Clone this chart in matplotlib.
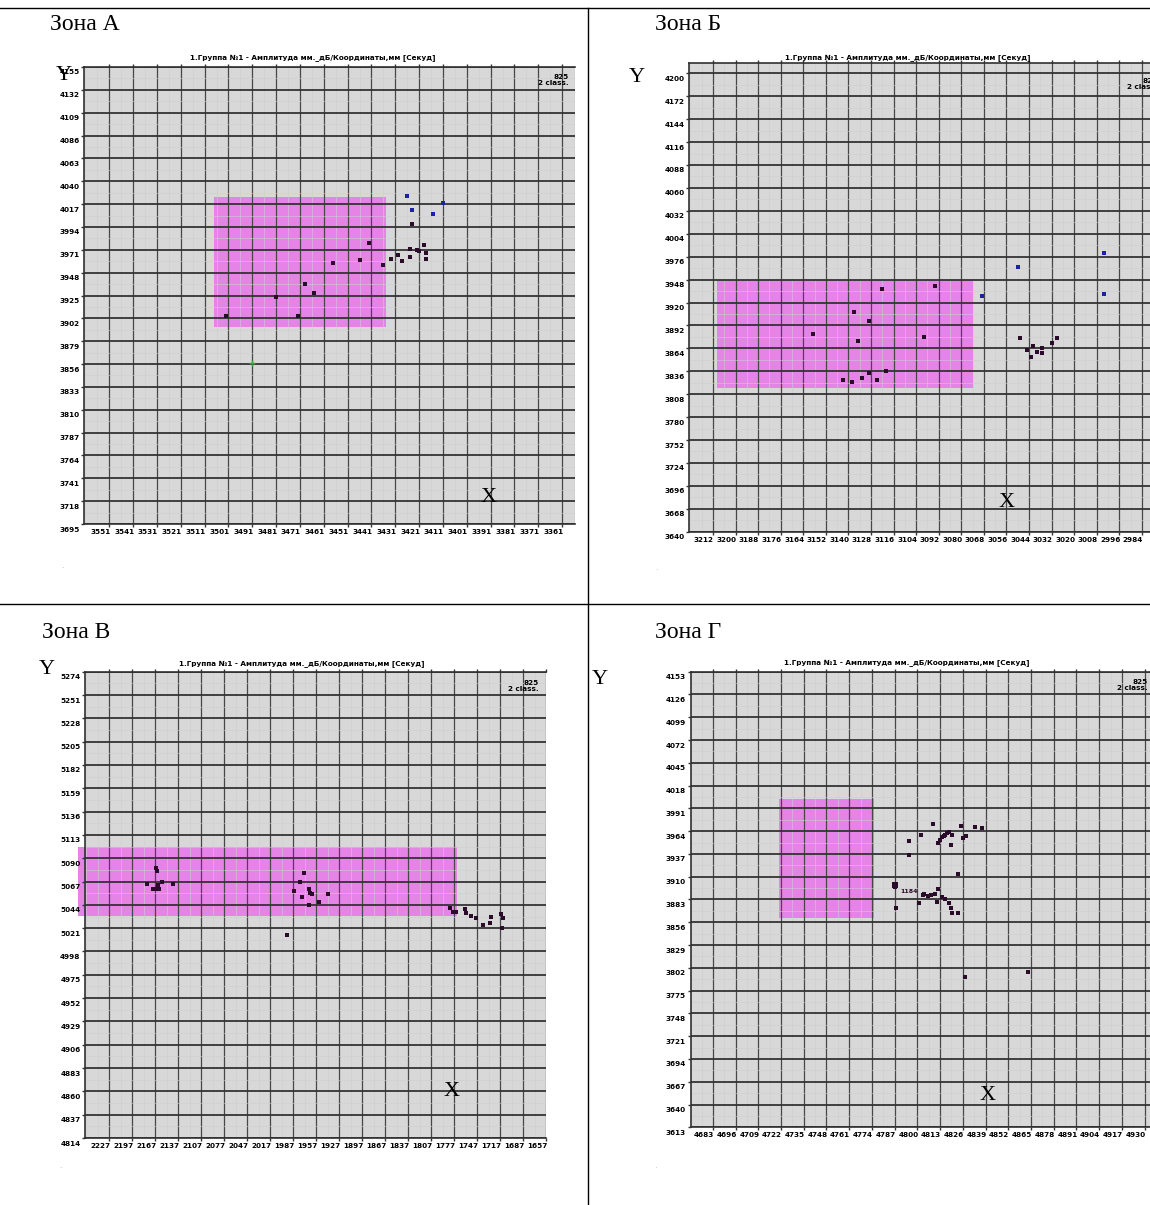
import matplotlib
matplotlib.use('Agg')
import matplotlib.pyplot as plt
from matplotlib.patches import Rectangle
from matplotlib.transforms import ScaledTranslation
from matplotlib.ticker import FixedLocator, AutoMinorLocator
from matplotlib import font_manager

W, H = 1150, 1205

names = {f.name for f in font_manager.fontManager.ttflist}
NARROW = 'Liberation Sans Narrow' if 'Liberation Sans Narrow' in names else 'DejaVu Sans'
SERIF = 'Liberation Serif'

TITLE = '1.Группа №1 - Амплитуда мм._дБ/Координаты,мм [Секуд]'

# ---- Зона А ----
a_xticks = [3551, 3541, 3531, 3521, 3511, 3501, 3491, 3481, 3471, 3461,
            3451, 3441, 3431, 3421, 3411, 3401, 3391, 3381, 3371, 3361]
a_yticks = [3695, 3718, 3741, 3764, 3787, 3810, 3833, 3856, 3879, 3902, 3925,
            3948, 3971, 3994, 4017, 4040, 4063, 4086, 4109, 4132, 4155]
a_rect = [3507, 3435, 3893, 4024]
a_dark_x = [3424, 3442, 3457, 3446, 3436, 3433, 3430, 3428, 3425, 3425,
            3422, 3421, 3419, 3418, 3418, 3469, 3465, 3481, 3502, 3472]
a_dark_y = [3997, 3978, 3958, 3961, 3956, 3962, 3966, 3960, 3972, 3964,
            3971, 3970, 3976, 3968, 3962, 3937, 3928, 3923, 3904, 3904]
a_blue_x = [3426, 3411, 3424, 3415]
a_blue_y = [4025, 4018, 4011, 4007]
a_green_x = [3491]
a_green_y = [3857]

# ---- Зона Б ----
b_xticks = [3212, 3200, 3188, 3176, 3164, 3152, 3140, 3128, 3116, 3104,
            3092, 3080, 3068, 3056, 3044, 3032, 3020, 3008, 2996, 2984]
b_yticks = [3640, 3668, 3696, 3724, 3752, 3780, 3808, 3836, 3864, 3892, 3920,
            3948, 3976, 4004, 4032, 4060, 4088, 4116, 4144, 4172, 4200]
b_rect = [3210, 3074, 3815, 3948]
b_dark_x = [3122, 3094, 3137, 3129, 3159, 3100, 3135, 3143, 3138, 3133, 3129,
            3125, 3120, 3049, 3045, 3043, 3042, 3040, 3037, 3037, 3032, 3029]
b_dark_y = [3937, 3940, 3908, 3898, 3882, 3878, 3873, 3825, 3823, 3828, 3834,
            3825, 3836, 3877, 3862, 3854, 3867, 3860, 3865, 3858, 3871, 3877]
b_blue_x = [3050, 3004, 3004, 3069]
b_blue_y = [3963, 3980, 3930, 3928]

# ---- Зона В ----
v_xticks = [2227, 2197, 2167, 2137, 2107, 2077, 2047, 2017, 1987, 1957,
            1927, 1897, 1867, 1837, 1807, 1777, 1747, 1717, 1687, 1657]
v_yticks = [4814, 4837, 4860, 4883, 4906, 4929, 4952, 4975, 4998, 5021, 5044,
            5067, 5090, 5113, 5136, 5159, 5182, 5205, 5228, 5251, 5274]
v_rect = [2268, 1773, 5033, 5101]
v_dark_x = [2166, 2165, 2178, 2170, 2165, 2162, 2158, 2144, 2163,
            1973, 1978, 1986, 1976, 1967, 1965, 1962, 1967, 1954, 1942, 1995,
            1783, 1778, 1775, 1763, 1761, 1755, 1748, 1739, 1730, 1729, 1716, 1713, 1715]
v_dark_y = [5080, 5077, 5065, 5060, 5060, 5060, 5067, 5065, 5064,
            5075, 5067, 5058, 5052, 5060, 5056, 5055, 5044, 5047, 5055, 5014,
            5041, 5037, 5037, 5040, 5036, 5033, 5031, 5024, 5026, 5032, 5035, 5031, 5021]

# ---- Зона Г ----
g_xticks = [4683, 4696, 4709, 4722, 4735, 4748, 4761, 4774, 4787, 4800,
            4813, 4826, 4839, 4852, 4865, 4878, 4891, 4904, 4917, 4930]
g_yticks = [3613, 3640, 3667, 3694, 3721, 3748, 3775, 3802, 3829, 3856, 3883,
            3910, 3937, 3964, 3991, 4018, 4045, 4072, 4099, 4126, 4153]
g_rect = [4721, 4775, 3861, 4002]
g_dark_x = [4809, 4802, 4795, 4795, 4812, 4813, 4815, 4817, 4818, 4820, 4819, 4825,
            4826, 4828, 4833, 4837, 4814, 4816, 4823, 4787, 4788, 4801, 4803,
            4804, 4806, 4808, 4810, 4811, 4812, 4814, 4816, 4818, 4819, 4820, 4823, 4827, 4863]
g_dark_y = [3973, 3960, 3952, 3936, 3950, 3954, 3958, 3962, 3963, 3959, 3948, 3970,
            3956, 3958, 3969, 3968, 3957, 3959, 3913, 3898, 3873, 3879, 3888,
            3890, 3887, 3888, 3890, 3880, 3895, 3886, 3884, 3879, 3873, 3867, 3867, 3791, 3797]
g_big_x = [4787]
g_big_y = [3900]

BG = '#d8d8d8'
MAGENTA = '#e583e6'
DARK = '#2a0c2a'
BLUE = '#1c22a8'


def fx(px):
    return px / W


def fy(py):
    return 1 - py / H


def make_axes(l, r, t, b):
    return fig.add_axes([l / W, 1 - b / H, (r - l) / W, (b - t) / H])


def style(ax, xticks, yticks, xlim, ylim, rect):
    ax.set_facecolor(BG)
    ax.set_xlim(*xlim)
    ax.set_ylim(*ylim)
    ax.xaxis.set_major_locator(FixedLocator(xticks))
    ax.yaxis.set_major_locator(FixedLocator(yticks))
    ax.set_xticklabels([str(v) for v in xticks])
    ax.set_yticklabels([str(v) for v in yticks])
    ax.xaxis.set_minor_locator(AutoMinorLocator(2))
    ax.yaxis.set_minor_locator(AutoMinorLocator(2))
    ax.grid(True, which='minor', color='#cecece', linewidth=0.4)
    ax.grid(True, which='major', axis='x', color='#474747', linewidth=0.9)
    ax.grid(True, which='major', axis='y', color='#333333', linewidth=1.3)
    ax.tick_params(which='minor', length=0)
    ax.tick_params(axis='both', which='major', direction='out', length=2.5,
                   width=1, color='#333333', pad=1, top=True)
    for lab in ax.get_xticklabels() + ax.get_yticklabels():
        lab.set_fontfamily([NARROW, 'DejaVu Sans'])
        lab.set_fontweight('bold')
        lab.set_fontsize(5.2)
    dx = ScaledTranslation(-9 / 100, 0, fig.dpi_scale_trans)
    dy = ScaledTranslation(0, -5 / 100, fig.dpi_scale_trans)
    for lab in ax.get_xticklabels():
        lab.set_transform(lab.get_transform() + dx)
    for lab in ax.get_yticklabels():
        lab.set_transform(lab.get_transform() + dy)
    for sp in ax.spines.values():
        sp.set_color('#303030')
        sp.set_linewidth(1.2)
    ax.spines['right'].set_visible(False)
    x0, x1, y0, y1 = rect
    ax.add_patch(Rectangle((min(x0, x1), y0), abs(x1 - x0), y1 - y0,
                           facecolor=MAGENTA, edgecolor='none', zorder=1,
                           clip_on=False))


def pts(ax, x, y, color=DARK, s=8):
    ax.scatter(x, y, s=s, marker='s', color=color, linewidths=0, zorder=3)


fig = plt.figure(figsize=(W / 100, H / 100), dpi=100)

# table lines
fig.add_artist(plt.Line2D([0, 1], [fy(8), fy(8)], color='black', lw=1))
fig.add_artist(plt.Line2D([0, 1], [fy(604), fy(604)], color='black', lw=1))
fig.add_artist(plt.Line2D([fx(588), fx(588)], [fy(8), 0], color='black', lw=1))

# Zone A
ax = make_axes(84.3, 575, 67, 524)
style(ax, a_xticks, a_yticks, (3561.5, 3355.6), (3695, 4155), a_rect)
pts(ax, a_dark_x, a_dark_y)
pts(ax, a_blue_x, a_blue_y, color=BLUE)
ax.scatter(a_green_x, a_green_y, s=22, marker='+', color='#3aa23a', linewidths=1.0, zorder=3)

# Zone B
ax = make_axes(689.4, 1160, 63, 531.7)
style(ax, b_xticks, b_yticks, (3224.5, 2974.4), (3640, 4212.6), b_rect)
pts(ax, b_dark_x, b_dark_y)
pts(ax, b_blue_x, b_blue_y, color=BLUE)

# Zone V
ax = make_axes(85.4, 546.1, 671.7, 1138)
style(ax, v_xticks, v_yticks, (2258.2, 1657), (4814, 5274), v_rect)
pts(ax, v_dark_x, v_dark_y)

# Zone G
ax = make_axes(690.5, 1160, 671.7, 1127.3)
style(ax, g_xticks, g_yticks, (4670.2, 4938.8), (3613, 4153), g_rect)
pts(ax, g_dark_x, g_dark_y)
pts(ax, g_big_x, g_big_y, s=22)
ax.text(4790, 3893, '1184', fontsize=4.5, fontweight='bold', color=DARK,
        family=[NARROW, 'DejaVu Sans'], va='center', ha='left', zorder=4)

# zone names
for txt, x, y in [('Зона А', 50, 25), ('Зона Б', 655, 25),
                  ('Зона В', 42, 632), ('Зона Г', 655, 632)]:
    fig.text(fx(x), fy(y), txt, fontsize=17, family=SERIF, va='center', ha='left')

# panel titles
for x, y in [(313, 58), (908, 58), (302, 664), (907, 663)]:
    fig.text(fx(x), fy(y), TITLE, fontsize=5.2, fontweight='bold',
             family=[NARROW, 'DejaVu Sans'], ha='center', va='center')

# class labels
for x, y in [(569, 80), (1158, 84), (539, 686), (1148, 685)]:
    fig.text(fx(x), fy(y), '825\n2 class.', fontsize=5.2, fontweight='bold',
             family=[NARROW, 'DejaVu Sans'], ha='right', va='center',
             multialignment='right', linespacing=1.1)

# axis letters
for txt, x, y in [('Y', 64, 76), ('Y', 637, 78), ('Y', 47, 669), ('Y', 600, 680),
                  ('X', 489, 498), ('X', 1007, 502), ('X', 452, 1092), ('X', 988, 1095)]:
    fig.text(fx(x), fy(y), txt, fontsize=16, family=SERIF, ha='center', va='center')

for x, y in [(62, 565), (656, 568), (60, 1165), (655, 1165)]:
    fig.text(fx(x), fy(y), '.', fontsize=6, color='#aaaaaa', ha='center', va='center')

fig.savefig('out.png', dpi=100)
